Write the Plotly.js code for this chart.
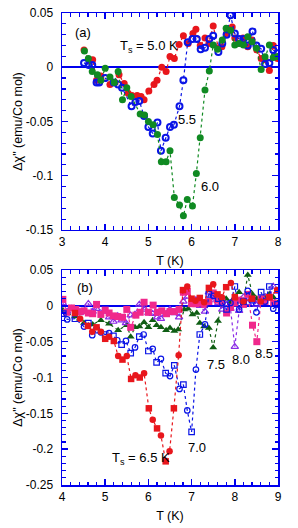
<!DOCTYPE html>
<html><head><meta charset="utf-8">
<script src="https://cdn.plot.ly/plotly-3.0.1.min.js"></script>
<style>html,body{margin:0;padding:0;background:#fff}#chart{width:298px;height:528px}</style>
</head><body><div id="chart"></div>
<script>
// ---- Panel (a) ----
const aRedT = [3.51,3.63,3.71,3.80,3.90,4.11,4.23,4.32,4.44,4.53,4.62,4.74,4.83,4.90,5.01,5.13,5.20,5.31,5.41,5.50,5.60,5.71,5.81,5.92,6.03,6.10,6.20,6.31,6.40,6.50,6.62,6.70,6.81,6.94,7.00,7.08,7.19,7.30,7.40,7.51,7.61,7.70,7.80,7.89,7.99];
const aRedD = [0.016,0.006,0.007,-0.012,-0.008,-0.016,-0.014,-0.007,-0.015,-0.024,-0.026,-0.026,-0.027,-0.030,-0.022,-0.016,-0.012,0.000,-0.004,0.010,0.008,0.021,0.029,0.022,0.031,0.035,0.020,0.027,0.022,0.038,0.018,0.019,0.031,0.037,0.027,0.022,0.027,0.019,0.025,0.016,0.008,0.007,-0.003,0.020,0.008];
const aBlueT = [3.51,3.62,3.70,3.80,3.86,4.00,4.20,4.30,4.39,4.61,4.70,4.79,4.90,5.00,5.10,5.21,5.29,5.40,5.50,5.59,5.72,5.81,5.91,6.02,6.12,6.21,6.31,6.41,6.50,6.62,6.71,6.81,6.90,7.00,7.10,7.20,7.30,7.41,7.50,7.61,7.70,7.80,7.89,7.99];
const aBlueD = [0.004,0.002,0.002,-0.014,-0.014,-0.010,-0.014,-0.016,-0.019,-0.036,-0.032,-0.031,-0.045,-0.055,-0.061,-0.051,-0.077,-0.065,-0.055,-0.053,-0.036,-0.012,0.023,0.026,0.026,0.0165,0.018,0.026,0.029,0.014,0.022,0.030,0.048,0.031,0.026,0.026,0.020,0.033,0.020,0.017,0.003,0.004,0.016,0.013];
const aGreenT = [3.52,3.61,3.70,3.82,3.90,4.00,4.11,4.21,4.30,4.40,4.50,4.60,4.81,4.91,5.00,5.11,5.21,5.30,5.41,5.50,5.60,5.72,5.81,5.90,6.02,6.11,6.20,6.31,6.41,6.50,6.60,6.71,6.80,6.90,7.00,7.10,7.20,7.30,7.40,7.50,7.61,7.70,7.80,7.89,7.99];
const aGreenD = [0.015,0.008,-0.004,-0.007,-0.012,-0.001,-0.009,-0.014,-0.004,-0.030,-0.019,-0.027,-0.043,-0.044,-0.050,-0.053,-0.062,-0.087,-0.087,-0.077,-0.120,-0.127,-0.137,-0.122,-0.128,-0.098,-0.065,-0.021,-0.0035,0.0205,0.0165,0.025,0.036,0.034,0.0205,0.022,0.0205,0.028,0.0235,0.0175,-0.002,0.0097,0.0205,0.009,0.010];

// ---- Panel (b) ----
const bRedT = [4.30,4.42,4.60,4.70,4.80,4.90,5.00,5.09,5.20,5.30,5.40,5.50,5.60,5.70,5.80,5.90,6.01,6.10,6.20,6.29,6.40,6.49,6.59,6.70,6.80,6.90,7.00,7.09,7.19,7.29,7.40,7.50,7.60,7.70,7.80,7.91,8.00,8.20,8.40,8.60,8.80,8.98];
const bRedD = [-0.010,-0.018,-0.028,-0.036,-0.030,-0.036,-0.046,-0.043,-0.049,-0.070,-0.075,-0.070,-0.102,-0.097,-0.100,-0.094,-0.143,-0.159,-0.171,-0.181,-0.217,-0.203,-0.143,-0.069,0.022,0.027,0.010,0.007,0.011,0.005,0.025,0.030,0.016,0.012,0.026,0.032,0.012,0.006,0.010,0.006,0.012,0.022];
const bBlueT = [4.03,4.12,4.30,4.51,4.61,4.70,4.80,4.90,5.00,5.09,5.19,5.28,5.38,5.48,5.59,5.69,5.79,5.89,6.00,6.10,6.19,6.29,6.40,6.50,6.60,6.72,6.81,6.90,7.00,7.10,7.19,7.31,7.40,7.50,7.62,7.71,7.81,7.90,8.00,8.10,8.20,8.30,8.40,8.50,8.61,8.70,8.80,8.89,8.99];
const bBlueD = [-0.011,-0.019,-0.018,-0.029,-0.024,-0.041,-0.034,-0.037,-0.040,-0.038,-0.042,-0.048,-0.054,-0.049,-0.066,-0.058,-0.043,-0.040,-0.063,-0.060,-0.079,-0.074,-0.094,-0.098,-0.083,-0.116,-0.110,-0.146,-0.176,-0.089,-0.040,-0.026,0.016,0.014,0.010,0.004,-0.005,0.004,0.027,-0.005,0.006,0.021,0.008,-0.009,0.019,0.006,0.027,-0.004,0.002];
const bGreenT = [4.02,4.12,4.30,4.41,4.51,4.71,4.90,5.09,5.30,5.50,5.59,5.69,5.79,5.90,6.00,6.10,6.19,6.29,6.41,6.50,6.60,6.69,6.83,6.92,7.02,7.12,7.19,7.29,7.40,7.50,7.61,7.71,7.80,7.91,8.00,8.10,8.20,8.30,8.41,8.51,8.61,8.70,8.80,8.89,8.99];
const bGreenD = [-0.006,-0.010,-0.015,-0.018,-0.024,-0.026,-0.020,-0.025,-0.034,-0.027,-0.043,-0.030,-0.029,-0.023,-0.030,-0.020,-0.027,-0.030,-0.034,-0.031,-0.035,-0.033,-0.005,-0.004,-0.012,-0.010,-0.024,-0.029,-0.031,-0.058,-0.021,0.009,0.010,0.005,0.009,0.019,0.006,0.043,0.016,0.010,0.009,0.013,0.016,0.012,0.004];
const bPurpleT = [4.02,4.12,4.22,4.41,4.61,4.71,4.80,5.00,5.09,5.19,5.29,5.38,5.48,5.59,5.69,5.79,5.90,6.00,6.10,6.20,6.29,6.40,6.50,6.60,6.71,6.81,6.91,7.00,7.10,7.19,7.31,7.40,7.50,7.62,7.71,7.81,7.90,8.00,8.10,8.20,8.30,8.41,8.50,8.61,8.70,8.80,8.89,8.99];
const bPurpleD = [0.004,-0.008,-0.004,-0.010,0.003,-0.008,-0.004,-0.008,-0.016,-0.022,-0.014,-0.020,-0.024,-0.013,-0.012,0.002,-0.005,-0.010,-0.011,-0.016,-0.018,-0.012,-0.005,-0.010,-0.016,0.006,0.013,0.002,0.008,0.000,-0.008,0.019,0.008,0.004,-0.005,0.002,-0.004,-0.057,-0.007,0.012,0.004,0.008,0.002,0.005,0.012,0.010,0.027,0.020];
const bPinkT = [4.02,4.11,4.22,4.32,4.41,4.51,4.61,4.71,4.80,4.90,5.00,5.09,5.19,5.29,5.40,5.50,5.59,5.71,5.81,5.90,6.00,6.11,6.21,6.31,6.42,6.50,6.60,6.71,6.81,6.90,7.00,7.10,7.19,7.30,7.40,7.50,7.60,7.70,7.81,7.90,8.00,8.10,8.20,8.30,8.41,8.51,8.61,8.70,8.80,8.90,8.99];
const bPinkD = [0.009,-0.009,-0.003,-0.005,-0.008,-0.007,-0.010,-0.011,0.002,-0.012,-0.006,-0.010,-0.014,-0.015,-0.016,-0.005,-0.030,-0.013,-0.009,0.005,-0.009,0.001,-0.009,-0.007,-0.011,-0.008,-0.008,-0.005,0.019,0.020,0.003,0.003,0.004,0.002,0.006,0.018,0.008,0.006,-0.010,-0.002,0.004,0.008,0.002,0.016,-0.027,-0.050,0.010,0.006,0.012,0.004,0.002];

// tick labels
const aXTicks = [3,4,5,6,7,8];
const aYTickVals = [0.05,0,-0.05,-0.1,-0.15];
const aYTickText = ["0.05","0","-0.05","-0.1","-0.15"];
const bXTicks = [4,5,6,7,8,9];
const bYTickVals = [0.05,0,-0.05,-0.1,-0.15,-0.2,-0.25];
const bYTickText = ["0.05","0","-0.05","-0.1","-0.15","-0.2","-0.25"];

const AX = '#0000ee';
const FONT = 'Liberation Sans, Arial, sans-serif';

function tr(x, y, color, symbol, size, lw, xa, ya) {
  return {
    x: x, y: y, xaxis: xa, yaxis: ya, type: 'scatter', mode: 'lines+markers',
    line: {color: color, width: 1.2, dash: 'dot'},
    marker: {color: color, symbol: symbol, size: size, line: {color: color, width: lw}},
    showlegend: false, cliponaxis: true
  };
}
const alt = (n, a, b) => Array.from({length: n}, (_, i) => (i % 2 ? b : a));

const data = [
  tr(aRedT, aRedD, '#e8161c', 'circle', 7, 0, 'x', 'y'),
  tr(aBlueT, aBlueD, '#0a14e6', 'circle-open', 6, 2, 'x', 'y'),
  tr(aGreenT, aGreenD, '#108a22', 'circle', 7, 0, 'x', 'y'),
  tr(bGreenT, bGreenD, '#0f5e14', 'triangle-up', 7, 0, 'x2', 'y2'),
  tr(bPurpleT, bPurpleD, '#8a2be6', 'triangle-up-open', 6.5, 1.2, 'x2', 'y2'),
  tr(bPinkT, bPinkD, '#f0288c', 'square', 7, 0, 'x2', 'y2'),
  tr(bBlueT, bBlueD, '#0a14e6', alt(bBlueT.length, 'square-open', 'circle-open'), 5.5, 1.2, 'x2', 'y2'),
  tr(bRedT, bRedD, '#e8161c', alt(bRedT.length, 'square', 'circle'), 6.5, 0, 'x2', 'y2')
];

function xax(range, ticks, anchor) {
  return {
    range: range, anchor: anchor, tickvals: ticks, ticktext: ticks.map(String),
    showline: true, linecolor: AX, linewidth: 1.5, mirror: 'allticks',
    ticks: 'inside', ticklen: 6, tickcolor: AX, tickwidth: 1.5,
    minor: {dtick: 0.2, ticks: 'inside', ticklen: 3.5, tickcolor: AX, tickwidth: 1.2},
    showgrid: false, zeroline: false,
    tickfont: {family: FONT, size: 12, color: '#000'},
    title: {text: 'T (K)', font: {family: FONT, size: 12.5, color: '#000'}, standoff: 8}
  };
}
function yax(range, vals, txt, anchor, dom) {
  return {
    range: range, anchor: anchor, domain: dom, tickvals: vals, ticktext: txt,
    showline: true, linecolor: AX, linewidth: 1.5, mirror: 'allticks',
    ticks: 'inside', ticklen: 6, tickcolor: AX, tickwidth: 1.5,
    minor: {dtick: 0.01, ticks: 'inside', ticklen: 3.5, tickcolor: AX, tickwidth: 1.2},
    showgrid: false, zeroline: true, zerolinecolor: AX, zerolinewidth: 1.5,
    ticklabelstandoff: 5,
    tickfont: {family: FONT, size: 12, color: '#000'},
    title: {text: 'Δχ" (emu/Co mol)', font: {family: FONT, size: 12.5, color: '#000'}, standoff: 0}
  };
}

const ann = (xr, yr, x, y, text) => ({xref: xr, yref: yr, x: x, y: y, text: text, showarrow: false,
  xanchor: 'left', yanchor: 'middle', font: {family: FONT, size: 13, color: '#000'}});

const layout = {
  width: 298, height: 528,
  margin: {l: 62, r: 20, t: 13, b: 43},
  paper_bgcolor: '#fff', plot_bgcolor: '#fff',
  xaxis: xax([3, 8], aXTicks, 'y'),
  yaxis: yax([-0.15, 0.05], aYTickVals, aYTickText, 'x', [0.5403, 1]),
  xaxis2: xax([4, 9], bXTicks, 'y2'),
  yaxis2: yax([-0.25, 0.05], bYTickVals, bYTickText, 'x2', [0, 0.4555]),
  annotations: [
    ann('x', 'y', 3.25, 0.0316, '(a)'),
    ann('x', 'y', 4.30, 0.019, 'T<sub>s</sub> = 5.0 K'),
    ann('x', 'y', 5.64, -0.048, '5.5'),
    ann('x', 'y', 6.17, -0.110, '6.0'),
    ann('x2', 'y2', 4.30, 0.026, '(b)'),
    ann('x2', 'y2', 7.31, -0.082, '7.5'),
    ann('x2', 'y2', 7.89, -0.075, '8.0'),
    ann('x2', 'y2', 8.43, -0.066, '8.5'),
    ann('x2', 'y2', 6.87, -0.198, '7.0'),
    ann('x2', 'y2', 5.10, -0.213, 'T<sub>s</sub> = 6.5 K')
  ]
};

Plotly.newPlot('chart', data, layout, {staticPlot: true, displayModeBar: false});
</script>
</body></html>
